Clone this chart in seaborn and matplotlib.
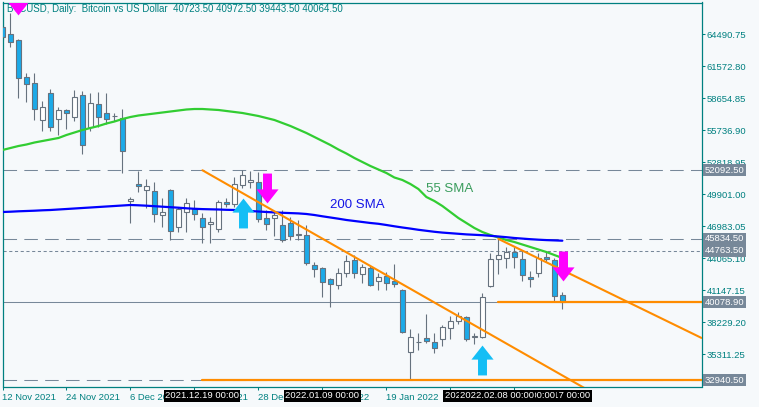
import numpy as np
import matplotlib
matplotlib.use("Agg")
import matplotlib.pyplot as plt
import matplotlib.transforms as mtransforms
from matplotlib.path import Path
from matplotlib.markers import MarkerStyle
import seaborn as sns

# ---------------- data ----------------
title = "BTCUSD, Daily:  Bitcoin vs US Dollar  40723.50 40972.50 39443.50 40064.50"

opens = [65184, 64518, 63971, 60597, 60050, 56676, 59138, 56767, 57588, 56949,
         58955, 56038, 58135, 57314, 57040, 56858, 49300, 50840, 50293, 50229,
         48013, 50293, 46919, 48287, 48652, 47740, 47193, 46737, 49198, 49016,
         50749, 51022, 51022, 47740, 47740, 47102, 47285, 46235, 46190, 43427,
         43181, 42178, 41631, 42725, 43910, 42634, 43181, 42018, 42451, 42018,
         41174, 35522, 36406, 36798, 36433, 36706, 37709, 38347, 38712, 36934,
         36889, 41539, 44001, 44047, 44639, 44001, 42360, 42725, 44183, 43910,
         40723.5]
highs = [66889, 66406, 64100, 60962, 60962, 58408, 59503, 57861, 57679, 59412,
         59321, 59138, 59229, 59138, 57314, 57679, 49655, 52026, 51296, 51050,
         49562, 50384, 48743, 49562, 49381, 48196, 47831, 49381, 49562, 51478,
         52117, 52026, 51934, 48469, 48378, 48469, 47831, 47558, 47102, 43728,
         43272, 42269, 43181, 44366, 44366, 43545, 43363, 42725, 42816, 43545,
         41220, 37618, 37253, 38986, 37253, 37983, 38803, 39168, 38803, 37253,
         40901, 44548, 45834.5, 45095, 45095, 44822, 42907, 44548, 44763.5, 44092,
         40972.5]
lows = [63971, 63360, 58682, 58318, 56676, 55674, 55674, 55308, 55855, 56585,
        53576, 55674, 56038, 56307, 56585, 51843, 47284, 50111, 48652, 47403,
        46919, 45734, 46463, 46463, 47558, 45460, 45460, 46463, 48743, 48743,
        50475, 50475, 47403, 46645, 46098, 45551, 45734, 45734, 43454, 42360,
        40535, 39624, 41265, 42360, 42269, 41813, 41539, 41174, 41174, 41448,
        37253, 32940.5, 35704, 36342, 35430, 36068, 36706, 38074, 36524, 36251,
        36843, 41448, 42634, 43181, 43181, 42018, 41448, 42360, 43728, 40171,
        39443.5]
closes = [64217, 63816, 60506, 59959, 57679, 57861, 56038, 57588, 57314, 58773,
          54396, 58226, 56949, 56767, 56995, 53849, 49450, 50658, 50658, 48105,
          48287, 46555, 48560, 49108, 48105, 46919, 47375, 49198, 49016, 50840,
          51661, 51205, 47649, 47193, 48013, 45734, 46098, 46281, 43636, 43062,
          41904, 41722, 42725, 43819, 42725, 43272, 41631, 42360, 41813, 41722,
          37344, 36890, 36433, 36525, 35886, 37800, 38347, 38803, 36706, 36980,
          40536, 44001, 44366, 44639, 44183, 42543, 42178, 44092, 44001, 40627,
          40064.5]

sma55 = [53940, 54123, 54305, 54442, 54624, 54761, 54898, 55035, 55309, 55537,
         55765, 55946, 56129, 56357, 56539, 56767, 56949, 57086, 57177, 57268,
         57360, 57451, 57542, 57633, 57679, 57679, 57633, 57588, 57497, 57406,
         57314, 57177, 57040, 56858, 56676, 56402, 56129, 55810, 55490, 55126,
         54761, 54396, 53986, 53621, 53211, 52846, 52482, 52163, 51843, 51433,
         51205, 50840, 50384, 49655, 49290, 48834, 48287, 47740, 47285, 46829,
         46463, 46190, 45962, 45734, 45551, 45323, 45095, 44867, 44639, 44366,
         44092]
sma200 = [48287, 48314, 48351, 48378, 48405, 48442, 48469, 48515, 48560, 48606,
          48652, 48697, 48743, 48789, 48834, 48880, 48925, 48898, 48862, 48816,
          48770, 48725, 48679, 48624, 48579, 48551, 48533, 48515, 48487, 48469,
          48424, 48378, 48332, 48287, 48250, 48214, 48187, 48159, 48105, 48013,
          47895, 47786, 47676, 47558, 47467, 47376, 47285, 47212, 47102, 46984,
          46874, 46774, 46665, 46574, 46483, 46410, 46355, 46300, 46245, 46209,
          46172, 46117, 46054, 45990, 45917, 45862, 45807, 45762, 45725, 45698,
          45670]

price_ticks = [64490.75, 61572.80, 58654.85, 55736.90, 52818.95, 49901.00,
               46983.05, 44065.10, 41147.15, 38229.20, 35311.25]
time_tick_bars = [0, 8, 16, 24, 32, 40, 48, 56, 64]
time_tick_labels = ["12 Nov 2021", "24 Nov 2021", "6 Dec 2021", "16 Dec 2021",
                    "28 Dec 2021", "7 Jan 2022", "19 Jan 2022", "31 Jan 2022",
                    "10 Feb 2022"]

# horizontal levels
level_dashed = [52092.5, 45834.5, 32940.5]
level_dotted = [44763.5]
level_solid = [40078.9]
level_labels = [52092.5, 45834.5, 44763.5, 40078.9, 32940.5]

# orange objects
trend1 = [(25, 52092.5), (66, 35047)]
trend2 = [(62, 45834.5), (70, 42990)]
orange_h = [(25, 32940.5), (62, 40078.9)]

# signal arrows (bar, centre price)
down_bars = [2, 33.1, 70.1]
down_prices = [67618, 50476, 43318]
up_bars = [30.1, 60]
up_prices = [48241, 34780]

# vertical-line time labels (bar, text) in drawing order
vline_labels = [(24.9, "2021.12.19 00:00"), (40.0, "2022.01.09 00:00"),
                (59.9, "2022.02.04 00:00"), (68.9, "2022.02.17 00:00"),
                (64.5, "2022.02.10 00:00"), (61.8, "2022.02.08 00:00")]

# ---------------- style ----------------
BG = "#F6F9FB"
TEAL = "#008080"
GRAY = "#778899"
WICK = "#66727E"
BEAR = "#1CAAE8"
ORANGE = "#FF8C00"

sns.set_style("white")
plt.rcParams["font.family"] = ["Liberation Sans", "DejaVu Sans"]

fig = plt.figure(figsize=(7.59, 4.07), dpi=100, facecolor=BG)
ax = fig.add_axes([2.5 / 759, 20.5 / 407, 699 / 759, 384 / 407])
ax.set_facecolor(BG)

XMAX = 87.4
ax.set_xlim(0.03, XMAX)
ax.set_ylim(32375, 67390)

bars = np.arange(len(opens))
o = np.array(opens, float)
c = np.array(closes, float)
h = np.array(highs, float)
l = np.array(lows, float)

# horizontal levels
for v in level_dashed:
    ax.axhline(v, color=GRAY, lw=0.75, ls=(0, (13, 7)), zorder=1)
for v in level_dotted:
    ax.axhline(v, color=GRAY, lw=0.75, ls=(0, (3, 2.5)), zorder=1)
for v in level_solid:
    ax.axhline(v, color=GRAY, lw=0.75, zorder=1)

# candles
ax.vlines(bars, l, h, color=WICK, lw=0.8, zorder=2)
bottoms = np.minimum(o, c)
heights = np.maximum(np.abs(c - o), 40)
fills = [BEAR if cc < oo else "white" for oo, cc in zip(o, c)]
ax.bar(bars, heights, bottom=bottoms, width=0.62, color=fills,
       edgecolor=WICK, linewidth=0.8, zorder=3)

# moving averages
sns.lineplot(x=bars, y=sma55, ax=ax, color="#32CD32", lw=1.6, zorder=4)
sns.lineplot(x=bars, y=sma200, ax=ax, color="#0000FF", lw=1.6, zorder=4)
ax.text(52.96, 50384, "55 SMA", color="#3A9D5D", fontsize=9.5, va="center", ha="left", zorder=5)
ax.text(40.96, 48925, "200 SMA", color="#1414E6", fontsize=9.5, va="center", ha="left", zorder=5)

# orange trend lines (rays to the right)
for (x1, y1), (x2, y2) in (trend1, trend2):
    slope = (y2 - y1) / (x2 - x1)
    ax.plot([x1, XMAX], [y1, y1 + slope * (XMAX - x1)], color=ORANGE, lw=1.5, zorder=5)
for x1, y1 in orange_h:
    ax.plot([x1, XMAX], [y1, y1], color=ORANGE, lw=1.6, zorder=5)

# arrows
up_path = Path([(0, 0.5), (0.37, 0.03), (0.15, 0.03), (0.15, -0.5), (-0.15, -0.5),
                (-0.15, 0.03), (-0.37, 0.03), (0, 0.5)], closed=True)
down_path = Path([(x, -y) for x, y in up_path.vertices], closed=True)
ax.scatter(down_bars, down_prices, marker=MarkerStyle(down_path), s=21.5 ** 2,
           color="#FF00FF", linewidths=0, zorder=7)
ax.scatter(up_bars, up_prices, marker=MarkerStyle(up_path), s=21.5 ** 2,
           color="#14BEF5", linewidths=0, zorder=7)

# title
ax.text(0.0066, 0.983, title, transform=ax.transAxes, color=TEAL, fontsize=7,
        va="center", ha="left", zorder=6)

# axes styling
for sp in ax.spines.values():
    sp.set_color(TEAL)
    sp.set_linewidth(0.9)
ax.set_xlabel("")
ax.set_ylabel("")
ax.yaxis.tick_right()
ax.set_yticks(price_ticks)
ax.set_yticklabels([f"{v:.2f}" for v in price_ticks])
ax.set_xticks(time_tick_bars)
ax.set_xticklabels(time_tick_labels, ha="left")
ax.tick_params(axis="y", right=True, left=False, length=2.5, width=0.75, color=TEAL,
               labelcolor=TEAL, labelsize=6.8, pad=1.2, direction="out")
ax.tick_params(axis="x", bottom=True, length=2.5, width=0.75, color=TEAL,
               labelcolor=TEAL, labelsize=6.8, pad=2.0, direction="out")
ax.grid(False)

# level price boxes on the right axis
ytrans = mtransforms.blended_transform_factory(ax.transAxes, ax.transData)
for v in level_labels:
    ax.text(1.005, v, f"{v:.2f}", transform=ytrans, color="white", fontsize=6.8,
            va="center", ha="left", zorder=10,
            bbox=dict(boxstyle="square,pad=0.18", fc=GRAY, ec="none"))

# vertical-line time labels on the time axis
xtrans = mtransforms.blended_transform_factory(ax.transData, ax.transAxes)
for i, (b, t) in enumerate(vline_labels):
    ax.text(b, -0.0245, t, transform=xtrans, color="white", fontsize=6.8,
            va="center", ha="center", zorder=10 + i, clip_on=False,
            bbox=dict(boxstyle="square,pad=0.12", fc="black", ec="none"))

fig.savefig("out.png", dpi=100, facecolor=BG)
